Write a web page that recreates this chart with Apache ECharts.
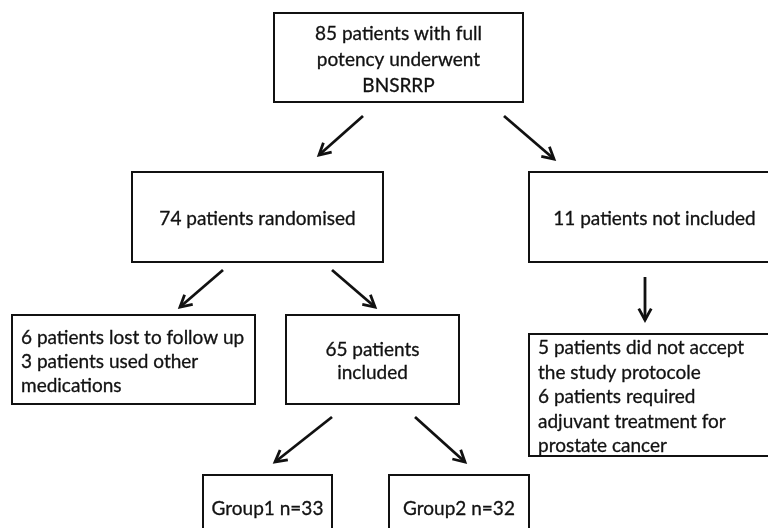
<!DOCTYPE html>
<html lang="en">
  <head>
    <meta charset="UTF-8" />
    <title>BNSRRP patient flow</title>
    <script src="https://cdn.jsdelivr.net/npm/echarts@6.0.0/dist/echarts.min.js"></script>
    <style>
      html, body { margin: 0; padding: 0; background: #fff; }
      #main { width: 768px; height: 528px; }
    </style>
  </head>
  <body>
    <div id="main"></div>
    <script>
      // box texts, one entry per box
      var nodeLabels = [
        "85 patients with full\npotency underwent\nBNSRRP",
        "74 patients randomised",
        "11 patients not included",
        "6 patients lost to follow up\n3 patients used other\nmedications",
        "65 patients\nincluded",
        "5 patients did not accept\nthe study protocole\n6 patients required\nadjuvant treatment for\nprostate cancer",
        "Group1 n=33",
        "Group2 n=32"
      ];

      // layout: box corners [x0, y0, x1, y1] in page units
      var boxes = [
        [274, 13, 523, 102],
        [132, 172, 383, 262],
        [529, 172, 780, 262],
        [12, 315, 255, 404],
        [286, 315, 459, 404],
        [529, 334, 780, 456],
        [203, 475, 332, 545],
        [389, 475, 529, 545]
      ];
      var textAlign = ["center", "center", "center", "left", "center", "left", "center", "center"];
      var lineHeights = [26, 24, 24, 24, 23, 24.6, 24, 24];

      // arrows [fromX, fromY, toX, toY]
      var arrows = [
        [363, 116, 319, 155],
        [504, 116, 554, 159],
        [223, 270, 180, 307],
        [332, 270, 375, 307],
        [645, 277, 645, 320],
        [332, 417, 275, 462],
        [415, 417, 465, 462]
      ];

      var ink = "#111";
      var font = "Lato, 'Open Sans', sans-serif";

      var chart = echarts.init(document.getElementById("main"));

      var boxData = boxes.map(function (b, i) {
        return [b[0], b[1], b[2], b[3], i];
      });

      chart.setOption({
        animation: false,
        grid: { left: 0, right: 0, top: 0, bottom: 0 },
        xAxis: { type: "value", min: 0, max: 768, show: false },
        yAxis: { type: "value", min: 0, max: 528, inverse: true, show: false },
        series: [
          {
            type: "custom",
            clip: false,
            data: boxData,
            renderItem: function (params, api) {
              var p0 = api.coord([api.value(0), api.value(1)]);
              var p1 = api.coord([api.value(2), api.value(3)]);
              var i = api.value(4);
              var left = textAlign[i] === "left";
              return {
                type: "group",
                children: [
                  {
                    type: "rect",
                    shape: { x: p0[0], y: p0[1], width: p1[0] - p0[0], height: p1[1] - p0[1] },
                    style: { fill: "#fff", stroke: ink, lineWidth: 2 }
                  },
                  {
                    type: "text",
                    x: left ? p0[0] + 9 : (p0[0] + p1[0]) / 2,
                    y: (p0[1] + p1[1]) / 2 + 2 - (i >= 6 ? 3 : 0),
                    style: {
                      text: nodeLabels[i],
                      fill: ink,
                      font: "19px " + font,
                      lineHeight: lineHeights[i],
                      align: textAlign[i],
                      verticalAlign: "middle",
                      stroke: ink,
                      lineWidth: 0.3
                    }
                  }
                ]
              };
            }
          },
          {
            type: "custom",
            clip: false,
            data: arrows,
            renderItem: function (params, api) {
              var a = api.coord([api.value(0), api.value(1)]);
              var b = api.coord([api.value(2), api.value(3)]);
              var ang = Math.atan2(b[1] - a[1], b[0] - a[0]);
              var len = 13, spread = 0.5;
              var h1 = [b[0] - len * Math.cos(ang - spread), b[1] - len * Math.sin(ang - spread)];
              var h2 = [b[0] - len * Math.cos(ang + spread), b[1] - len * Math.sin(ang + spread)];
              var st = { stroke: ink, lineWidth: 2.8, fill: null, lineJoin: "miter" };
              return {
                type: "group",
                children: [
                  { type: "line", shape: { x1: a[0], y1: a[1], x2: b[0], y2: b[1] }, style: st },
                  { type: "polyline", shape: { points: [h1, b, h2] }, style: st }
                ]
              };
            }
          }
        ]
      });
    </script>
  </body>
</html>
